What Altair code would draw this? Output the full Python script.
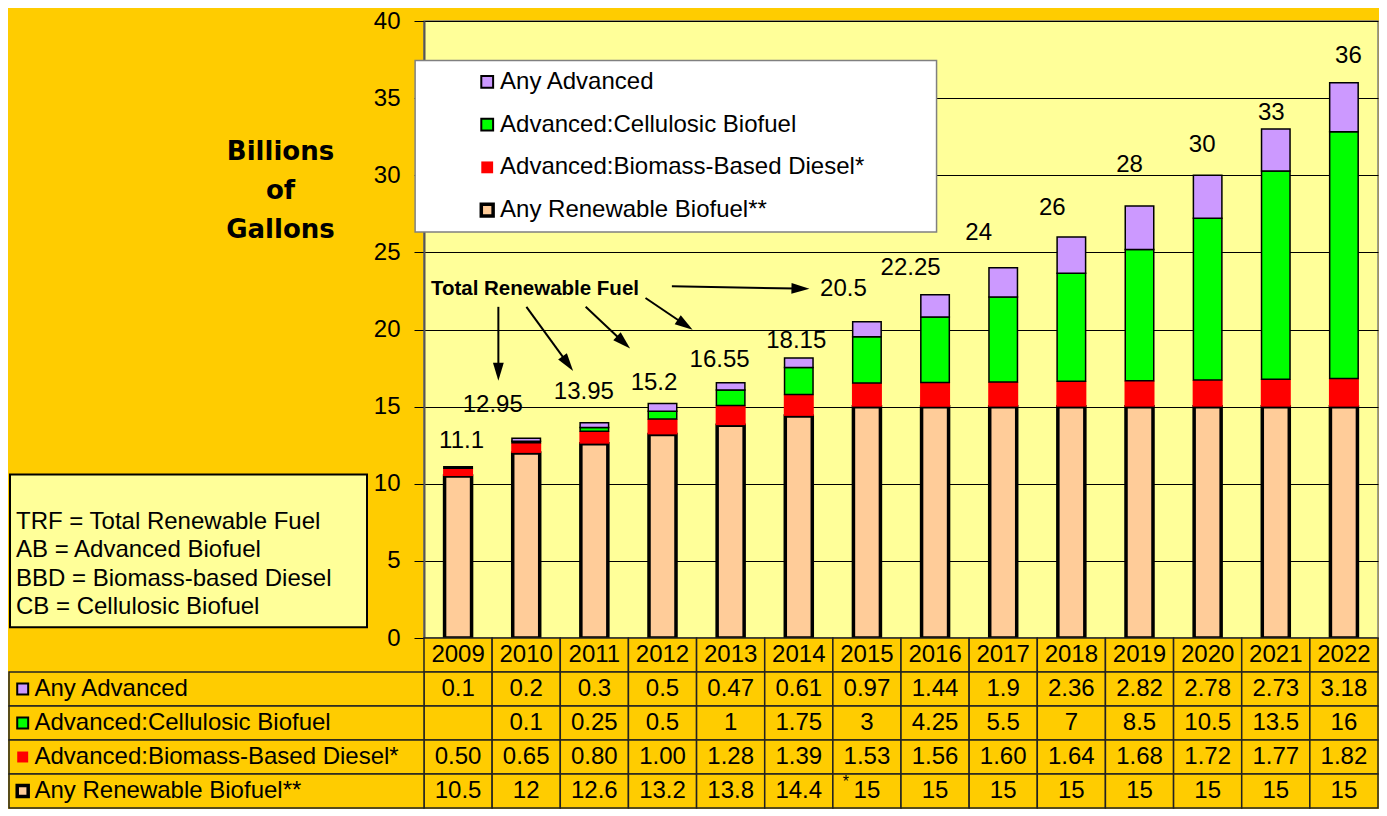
import math
import altair as alt
import pandas as pd

# ---------------- data ----------------
years = ["2009", "2010", "2011", "2012", "2013", "2014", "2015",
         "2016", "2017", "2018", "2019", "2020", "2021", "2022"]
any_advanced = [0.1, 0.2, 0.3, 0.5, 0.47, 0.61, 0.97, 1.44, 1.9, 2.36, 2.82, 2.78, 2.73, 3.18]
cellulosic = [None, 0.1, 0.25, 0.5, 1, 1.75, 3, 4.25, 5.5, 7, 8.5, 10.5, 13.5, 16]
biomass_diesel = [0.50, 0.65, 0.80, 1.00, 1.28, 1.39, 1.53, 1.56, 1.60, 1.64, 1.68, 1.72, 1.77, 1.82]
renewable = [10.5, 12, 12.6, 13.2, 13.8, 14.4, 15, 15, 15, 15, 15, 15, 15, 15]
total_labels = ["11.1", "12.95", "13.95", "15.2", "16.55", "18.15", "20.5",
                "22.25", "24", "26", "28", "30", "33", "36"]

series_names = ["Any Renewable Biofuel**", "Advanced:Biomass-Based Diesel*",
                "Advanced:Cellulosic Biofuel", "Any Advanced"]
series_values = [renewable, biomass_diesel, cellulosic, any_advanced]
definitions = ["TRF = Total Renewable Fuel", "AB = Advanced Biofuel",
               "BBD = Biomass-based Diesel", "CB = Cellulosic Biofuel"]
footnote_year = "2015"

# ---------------- styling / layout ----------------
FONT = "Liberation Sans"
PAGE = "#FFCC00"
PLOT_BG = "#FFFF99"
FILL = {
    "Any Advanced": "#CC99FF",
    "Advanced:Cellulosic Biofuel": "#00FF00",
    "Advanced:Biomass-Based Diesel*": "#FF0000",
    "Any Renewable Biofuel**": "#FFCC99",
}
SYMBOL_SW = {
    "Any Advanced": 2,
    "Advanced:Cellulosic Biofuel": 2,
    "Advanced:Biomass-Based Diesel*": 0,
    "Any Renewable Biofuel**": 3.5,
}
W, H, TH = 954, 617, 170
BAND = W / len(years)
# nudges of the total labels (px, relative to the top-centre of each bar)
label_dx = [3.5, -33.5, -10.5, -8.5, -11, -2.5, -23.5, -24.5, -24.5, -19, -10, -5.5, -4.5, 4.5]
label_dy = [-26, -33, -31, -21, -23, -17, -33, -27, -35, -29, -41, -30, -16, -27]

# reference plot frame, used to place annotations proportionally inside the plot
RX0, RY0, RW, RH = 423, 15, 966, 626


def in_x(x):
    return (x - RX0) * W / RW


def in_y(y):
    return (y - RY0) * H / RH


def out_x(x):
    return x - RX0


# ---------------- tables ----------------
rows = []
for i, yr in enumerate(years):
    for order, (name, vals) in enumerate(zip(series_names, series_values)):
        if vals[i] is not None:
            rows.append({"year": yr, "series": name, "value": vals[i], "order": order})
bars_df = pd.DataFrame(rows)

totals_val = [round(sum(v[i] for v in series_values if v[i] is not None), 2) for i in range(len(years))]
tot_df = pd.DataFrame({
    "year": years,
    "total": totals_val,
    "label": total_labels,
    "dx": [d + BAND / 2 for d in label_dx],
    "ly": [t - d * 40 / H for t, d in zip(totals_val, label_dy)],
})

X = alt.X("year:O", scale=alt.Scale(domain=years, paddingInner=0, paddingOuter=0), axis=None)
YS = alt.Scale(domain=[0, 40], nice=False, zero=True)
YAX = alt.Axis(values=list(range(0, 41, 5)), grid=True, gridColor="black", gridWidth=1,
               tickColor="black", tickSize=10, tickWidth=1, labelFontSize=24, labelPadding=14,
               labelColor="black", labelFont=FONT, domainColor="#555555", domainWidth=2,
               title=["Billions", "of", "Gallons"], titleAngle=0, titleX=-144, titleY=117,
               titleAlign="center", titleBaseline="top", titleFont="DejaVu Sans",
               titleFontSize=26, titleFontWeight="bold", titleLineHeight=39, titleColor="black")


def px(col):
    return alt.X(col + ":Q", scale=None, axis=None)


def py(col):
    return alt.Y(col + ":Q", scale=None, axis=None)


stack_base = alt.Chart(bars_df).transform_stack(
    stack="value", groupby=["year"], as_=["v0", "v1"],
    sort=[alt.SortField("order", order="ascending")])


def bar_layer(name, **mk):
    return stack_base.transform_filter(alt.datum.series == name).mark_bar(
        fill=FILL[name], **mk).encode(
        x=X, y=alt.Y("v0:Q", scale=YS, axis=YAX), y2="v1:Q")


bars = [
    bar_layer("Any Renewable Biofuel**", size=27, stroke="black", strokeWidth=3.5),
    bar_layer("Advanced:Biomass-Based Diesel*", size=30, strokeWidth=0),
    bar_layer("Advanced:Cellulosic Biofuel", size=28.5, stroke="black", strokeWidth=1.5),
    bar_layer("Any Advanced", size=28.5, stroke="black", strokeWidth=1.5),
]

totals = alt.Chart(tot_df).mark_text(fontSize=24, font=FONT, color="black",
                                     align="center", baseline="middle").encode(
    x=X, y=alt.Y("ly:Q", scale=YS, axis=YAX), text="label:N",
    xOffset=alt.XOffset("dx:Q", scale=None))

# legend box (drawn by hand)
legend_order = ["Any Advanced", "Advanced:Cellulosic Biofuel",
                "Advanced:Biomass-Based Diesel*", "Any Renewable Biofuel**"]
box_df = pd.DataFrame({"x": [in_x(414)], "x2": [in_x(942)], "y": [in_y(55)], "y2": [in_y(229)]})
legend_box = alt.Chart(box_df).mark_rect(fill="white", stroke="#808080", strokeWidth=1.5).encode(
    x=px("x"), x2="x2", y=py("y"), y2="y2")
leg_df = pd.DataFrame({
    "name": legend_order,
    "fill": [FILL[n] for n in legend_order],
    "sw": [SYMBOL_SW[n] for n in legend_order],
    "sx": [in_x(487)] * 4,
    "tx": [in_x(500)] * 4,
    "y": [in_y(76.7 + k * 43.4) for k in range(4)],
})
legend_sym = alt.Chart(leg_df).mark_square(size=140, opacity=1, stroke="black").encode(
    x=px("sx"), y=py("y"), fill=alt.Fill("fill:N", scale=None),
    strokeWidth=alt.StrokeWidth("sw:Q", scale=None))
legend_txt = alt.Chart(leg_df).mark_text(fontSize=24, font=FONT, align="left",
                                         baseline="middle", color="black").encode(
    x=px("tx"), y=py("y"), text="name:N")

# definitions box (outside the plot, left of the axis)
def_box_df = pd.DataFrame({"x": [out_x(9)], "x2": [out_x(366)], "y": [in_y(475)], "y2": [in_y(630)]})
def_box = alt.Chart(def_box_df).mark_rect(fill=PLOT_BG, stroke="black", strokeWidth=2).encode(
    x=px("x"), x2="x2", y=py("y"), y2="y2")
def_df = pd.DataFrame({"t": definitions, "x": [out_x(15)] * 4,
                       "y": [in_y(523.3), in_y(552), in_y(581.5), in_y(610)]})
def_txt = alt.Chart(def_df).mark_text(fontSize=24, font=FONT, align="left",
                                      baseline="middle", color="black").encode(
    x=px("x"), y=py("y"), text="t:N")

# "Total Renewable Fuel" annotation with arrows
ann_df = pd.DataFrame({"t": ["Total Renewable Fuel"], "x": [in_x(430)], "y": [in_y(286.7)]})
ann_txt = alt.Chart(ann_df).mark_text(fontSize=20.5, font=FONT, fontWeight="bold", align="left",
                                      baseline="middle", color="black").encode(
    x=px("x"), y=py("y"), text="t:N")
arrow_start = [(498.3, 305), (526.7, 305), (586.7, 305), (647.3, 296), (674, 284)]
arrow_tip = [(498.3, 380), (574, 370), (631.7, 347.3), (695, 328.3), (813.3, 286.7)]
HEAD = 18
ar_rows = []
for (x0, y0), (x1, y1) in zip(arrow_start, arrow_tip):
    x0, y0, x1, y1 = in_x(x0), in_y(y0), in_x(x1), in_y(y1)
    L = math.hypot(x1 - x0, y1 - y0)
    ux, uy = (x1 - x0) / L, (y1 - y0) / L
    ar_rows.append({
        "x": x0, "y": y0,
        "x2": x1 - ux * (HEAD - 4), "y2": y1 - uy * (HEAD - 4),
        "hx": x1 - ux * HEAD / 2, "hy": y1 - uy * HEAD / 2,
        "ang": math.degrees(math.atan2(ux, -uy)) % 360,
    })
ar_df = pd.DataFrame(ar_rows)
arrow_lines = alt.Chart(ar_df).mark_rule(color="black", strokeWidth=2).encode(
    x=px("x"), y=py("y"), x2="x2", y2="y2")
arrow_heads = alt.Chart(ar_df).mark_point(shape="M0,-1L0.6,1L-0.6,1Z", filled=True, fill="black",
                                          opacity=1, strokeWidth=0, size=HEAD * HEAD).encode(
    x=px("hx"), y=py("hy"), angle=alt.Angle("ang:Q", scale=None))

top = alt.layer(
    *bars, totals, legend_box, legend_sym, legend_txt, def_box, def_txt,
    ann_txt, arrow_lines, arrow_heads
).properties(width=W, height=H,
             view=alt.ViewBackground(fill=PLOT_BG, stroke="#808080", strokeWidth=1.5))

# ---------------- data table below the plot ----------------
table_rows = ["Year"] + legend_order
cell_rows = []
for i, yr in enumerate(years):
    cell_rows.append({"year": yr, "row": "Year", "text": yr})
    cell_rows.append({"year": yr, "row": "Any Advanced", "text": f"{any_advanced[i]:g}"})
    cell_rows.append({"year": yr, "row": "Advanced:Cellulosic Biofuel",
                      "text": "" if cellulosic[i] is None else f"{cellulosic[i]:g}"})
    cell_rows.append({"year": yr, "row": "Advanced:Biomass-Based Diesel*",
                      "text": f"{biomass_diesel[i]:.2f}"})
    cell_rows.append({"year": yr, "row": "Any Renewable Biofuel**", "text": f"{renewable[i]:g}"})
cells_df = pd.DataFrame(cell_rows)
TY = alt.Y("row:N", sort=table_rows,
           scale=alt.Scale(domain=table_rows, paddingInner=0, paddingOuter=0), axis=None)

cells = alt.Chart(cells_df).mark_rect(fill=PAGE, stroke="#222222", strokeWidth=1.5).encode(x=X, y=TY)
cell_txt = alt.Chart(cells_df).mark_text(fontSize=24, font=FONT, color="black",
                                         baseline="middle").encode(x=X, y=TY, text="text:N")
note_df = pd.DataFrame({"year": [footnote_year], "row": ["Any Renewable Biofuel**"], "t": ["*"]})
note_txt = alt.Chart(note_df).mark_text(fontSize=16, font=FONT, color="black", dx=-21, dy=-9).encode(
    x=X, y=TY, text="t:N")

lab_df = pd.DataFrame({"row": legend_order,
                       "fill": [FILL[n] for n in legend_order],
                       "sw": [SYMBOL_SW[n] for n in legend_order]})
lab_cells = alt.Chart(lab_df).mark_rect(fill=PAGE, stroke="#222222", strokeWidth=1.5).encode(
    x=alt.value(out_x(8)), x2=alt.value(0), y=TY)
lab_sym = alt.Chart(lab_df).mark_square(size=120, opacity=1, stroke="black").encode(
    x=alt.value(out_x(21.7)), y=TY, fill=alt.Fill("fill:N", scale=None),
    strokeWidth=alt.StrokeWidth("sw:Q", scale=None))
lab_txt = alt.Chart(lab_df).mark_text(fontSize=24, font=FONT, align="left", color="black",
                                      baseline="middle").encode(
    x=alt.value(out_x(33.5)), y=TY, text="row:N")

table = alt.layer(cells, cell_txt, note_txt, lab_cells, lab_sym, lab_txt).properties(
    width=W, height=TH, view=alt.ViewBackground(fill=PAGE, strokeWidth=0))

chart = alt.vconcat(top, table, spacing=0, bounds="flush").properties(
    background=PAGE, padding=0
).configure(font=FONT)

chart.save("out.html", embed_options={"renderer": "svg", "actions": False})
